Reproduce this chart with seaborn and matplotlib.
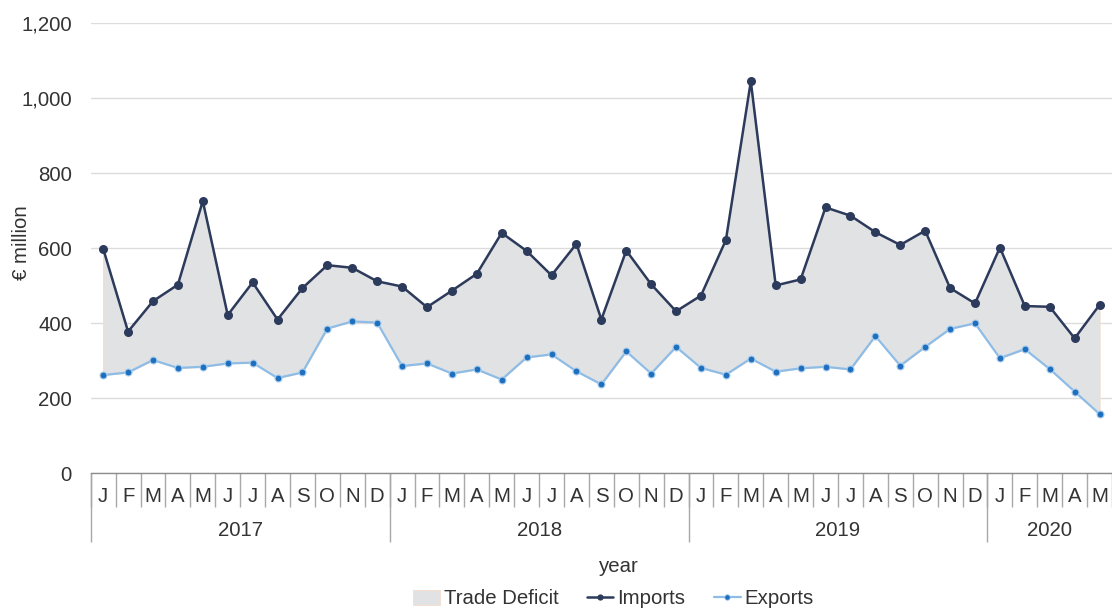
import numpy as np
import pandas as pd
import seaborn as sns
import matplotlib.pyplot as plt
from matplotlib.patches import Patch
from matplotlib.lines import Line2D
from matplotlib.ticker import FuncFormatter

# ---- data ----
month_labels = ['J', 'F', 'M', 'A', 'M', 'J', 'J', 'A', 'S', 'O', 'N', 'D']
years = ['2017', '2018', '2019', '2020']
months_per_year = [12, 12, 12, 5]

imports = [599, 378, 459, 503, 726, 422, 509, 410, 494, 555, 548, 512,
           498, 443, 487, 532, 641, 593, 528, 612, 410, 594, 504, 432,
           474, 622, 1045, 501, 517, 709, 687, 643, 609, 647, 494, 453,
           602, 446, 444, 360, 449]
exports = [262, 269, 302, 281, 284, 293, 295, 254, 269, 386, 405, 402,
           286, 293, 266, 277, 250, 309, 317, 272, 237, 325, 266, 337,
           281, 263, 306, 271, 280, 284, 277, 366, 287, 337, 385, 400,
           307, 331, 278, 218, 158]

yticks = [0, 200, 400, 600, 800, 1000, 1200]

# ---- styling ----
sns.set_theme(style='white')
plt.rcParams['font.family'] = ['Liberation Sans', 'DejaVu Sans']

navy = '#2C3A5C'
light_blue = '#8DBDE6'
marker_blue = '#1F6FBF'
fill_col = '#E1E2E4'
fill_edge = '#F6DCCB'
text_col = '#333333'
fs = 14.7

n = len(imports)
month_seq = [month_labels[i % 12] for i in range(n)]
df = pd.DataFrame({'idx': np.arange(n), 'Imports': imports, 'Exports': exports,
                   'month': month_seq})

W, H = 1112, 608
fig = plt.figure(figsize=(W / 100, H / 100), dpi=100)
ax_left, ax_right, ax_top, ax_bottom = 90.7, 1112, 23.3, 473.3
ax = fig.add_axes([ax_left / W, (H - ax_bottom) / H,
                   (ax_right - ax_left) / W, (ax_bottom - ax_top) / H])

ax.fill_between(df['idx'], df['Exports'], df['Imports'],
                facecolor=fill_col, edgecolor=fill_edge, linewidth=0.8, zorder=1)
sns.lineplot(data=df, x='idx', y='Imports', ax=ax, color=navy, marker='o',
             markersize=6.5, markeredgewidth=0, linewidth=1.8, zorder=3)
sns.lineplot(data=df, x='idx', y='Exports', ax=ax, color=light_blue, marker='o',
             markersize=5, markerfacecolor=marker_blue, markeredgecolor='#A9CDEE',
             markeredgewidth=0.8, linewidth=1.6, zorder=3)

ax.set_xlim(-0.5, n - 0.5)
ax.set_ylim(0, 1200)
ax.set_yticks(yticks)
ax.yaxis.set_major_formatter(FuncFormatter(lambda v, p: f'{int(v):,}'))
ax.tick_params(axis='y', length=0, pad=13.5, labelsize=fs, labelcolor=text_col)
ax.yaxis.grid(True, color='#DCDCDC', linewidth=1)
ax.set_axisbelow(True)
for s in ['left', 'top', 'right']:
    ax.spines[s].set_visible(False)
ax.spines['bottom'].set_color('#8C8C8C')
ax.spines['bottom'].set_linewidth(1)

# x axis: month labels, separators, year groups
ax.set_xticks([])
ax.set_xticks(np.arange(-0.5, n, 1), minor=True)
ax.tick_params(axis='x', which='minor', bottom=True, length=24.5, width=1,
               color='#A8A8A8', direction='out', labelbottom=False)
ax.set_xlabel('')
ax.set_ylabel('')
xt = ax.get_xaxis_transform()
ax_h = ax_bottom - ax_top
for i, m in enumerate(month_seq):
    ax.text(i, -(497 - ax_bottom) / ax_h, m, transform=xt, ha='center', va='center',
            fontsize=fs, color=text_col, clip_on=False)
start = 0
bounds = []
for y, cnt in zip(years, months_per_year):
    bounds.append(start - 0.5)
    ax.text(start + (cnt - 1) / 2, -(530.5 - ax_bottom) / ax_h, y, transform=xt,
            ha='center', va='center', fontsize=fs, color=text_col, clip_on=False)
    start += cnt
ax.vlines(bounds, -(542 - ax_bottom) / ax_h, 0, transform=xt, colors='#A8A8A8',
          linewidth=1, clip_on=False)

ax.text(-(90.7 - 21.5) / (ax_right - ax_left), (ax_bottom - 243) / ax_h, '€ million',
        transform=ax.transAxes, rotation=90, ha='center', va='center',
        fontsize=fs, color=text_col)

fig.text(619 / W, 1 - 566 / H, 'year', ha='center', va='center', fontsize=fs,
         color=text_col)

handles = [Patch(facecolor=fill_col, edgecolor=fill_edge, linewidth=0.6),
           Line2D([], [], color=navy, marker='o', markersize=4.5, linewidth=1.8,
                  markeredgewidth=0),
           Line2D([], [], color=light_blue, marker='o', markersize=4,
                  markerfacecolor=marker_blue, markeredgecolor='#A9CDEE',
                  markeredgewidth=0.6, linewidth=1.6)]
fig.legend(handles, ['Trade Deficit', 'Imports', 'Exports'], loc='center',
           bbox_to_anchor=(613.5 / W, 1 - 599 / H), ncol=3, frameon=False,
           fontsize=fs, handlelength=1.3, handleheight=0.8, handletextpad=0.2,
           columnspacing=1.4, labelcolor=text_col)

fig.savefig('out.png', dpi=100)
